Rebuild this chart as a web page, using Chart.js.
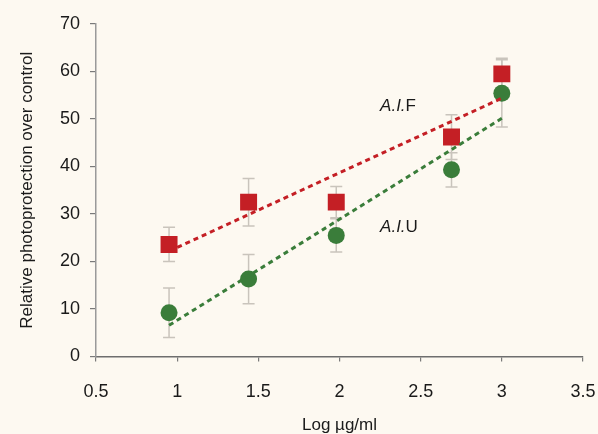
<!DOCTYPE html>
<html>
<head>
<meta charset="utf-8">
<script src="https://cdn.jsdelivr.net/npm/chart.js@4/dist/chart.umd.min.js"></script>
<style>
  html, body { margin: 0; padding: 0; background: #fdf9f1; }
  #wrap { width: 598px; height: 434px; }
</style>
</head>
<body>
<div id="wrap"><canvas id="chart" width="598" height="434"></canvas></div>
<script>
// log concentration (x) for each measurement
const logConc = [0.95, 1.44, 1.98, 2.69, 3.0]
// A.I.F series and its error bars
const aifVals = [23.6, 32.5, 32.5, 46.2, 59.5]
const aifErr = [3.6, 5.0, 3.3, 4.7, 3.3]
// A.I.U series and its error bars
const aiuVals = [9.2, 16.3, 25.5, 39.3, 55.4]
const aiuErr = [5.2, 5.2, 3.5, 3.6, 7.1]
// axis ticks
const xTicks = [0.5, 1, 1.5, 2, 2.5, 3, 3.5]
const yTicks = [0, 10, 20, 30, 40, 50, 60, 70]

const RED = '#c41f25'
const GREEN = '#3a7d3a'
const FONT = 'Arial, "Liberation Sans", sans-serif'

// least squares trend line over the x range of the data
function trend(xs, ys){
    const n = xs.length
    const mx = xs.reduce((a, b) => a + b, 0) / n
    const my = ys.reduce((a, b) => a + b, 0) / n
    let sxy = 0, sxx = 0
    for(let i = 0; i < n; i++){
        sxy += (xs[i] - mx) * (ys[i] - my)
        sxx += (xs[i] - mx) * (xs[i] - mx)
    }
    const k = sxy / sxx
    const x0 = Math.min(...xs), x1 = Math.max(...xs)
    return [{x: x0, y: my + k * (x0 - mx)}, {x: x1, y: my + k * (x1 - mx)}]
}

function pts(ys){
    return logConc.map((x, i) => ({x: x, y: ys[i]}))
}

// error bars drawn through the chart scales, under the markers
const errorBars = {
    id: 'errorBars',
    beforeDatasetsDraw(chart){
        const {ctx, scales: {x, y}} = chart
        ctx.save()
        ctx.strokeStyle = '#c9c4bc'
        ctx.lineWidth = 1.5
        const sets = [[aifVals, aifErr], [aiuVals, aiuErr]]
        sets.forEach(([vals, errs]) => {
            vals.forEach((v, i) => {
                const px = x.getPixelForValue(logConc[i])
                const top = y.getPixelForValue(v + errs[i])
                const bot = y.getPixelForValue(v - errs[i])
                ctx.beginPath()
                ctx.moveTo(px, top); ctx.lineTo(px, bot)
                ctx.moveTo(px - 6, top); ctx.lineTo(px + 6, top)
                ctx.moveTo(px - 6, bot); ctx.lineTo(px + 6, bot)
                ctx.stroke()
            })
        })
        ctx.restore()
    }
}

// series labels placed in data coordinates
const seriesLabels = {
    id: 'seriesLabels',
    afterDatasetsDraw(chart){
        const {ctx, scales: {x, y}} = chart
        ctx.save()
        ctx.fillStyle = '#1a1a1a'
        ctx.textBaseline = 'middle'
        const items = [['A.I.', 'F', 2.25, 52.6], ['A.I.', 'U', 2.25, 27.3]]
        items.forEach(([it, rest, lx, ly]) => {
            const px = x.getPixelForValue(lx)
            const py = y.getPixelForValue(ly)
            ctx.font = 'italic 17px ' + FONT
            ctx.fillText(it, px, py)
            const w = ctx.measureText(it).width
            ctx.font = '17px ' + FONT
            ctx.fillText(rest, px + w, py)
        })
        ctx.restore()
    }
}

const ctx = document.getElementById('chart').getContext('2d')

new Chart(ctx, {
    type: 'scatter',
    data: {
        datasets: [
            {
                label: 'A.I.F trend',
                type: 'line',
                data: trend(logConc, aifVals),
                borderColor: RED,
                borderWidth: 3,
                borderDash: [5, 4],
                pointRadius: 0,
                fill: false,
                order: 0
            },
            {
                label: 'A.I.U trend',
                type: 'line',
                data: trend(logConc, aiuVals),
                borderColor: GREEN,
                borderWidth: 3,
                borderDash: [5, 4],
                pointRadius: 0,
                fill: false,
                order: 0
            },
            {
                label: 'A.I.F',
                data: pts(aifVals),
                pointStyle: 'rect',
                pointRadius: 12,
                backgroundColor: RED,
                borderColor: RED,
                borderWidth: 0,
                order: 2
            },
            {
                label: 'A.I.U',
                data: pts(aiuVals),
                pointStyle: 'circle',
                pointRadius: 8.5,
                backgroundColor: GREEN,
                borderColor: GREEN,
                borderWidth: 0,
                order: 1
            }
        ]
    },
    options: {
        responsive: false,
        animation: false,
        layout: { autoPadding: false, padding: { top: 24, right: 15, left: 0, bottom: 0 } },
        plugins: { legend: { display: false }, tooltip: { enabled: false } },
        scales: {
            x: {
                type: 'linear',
                min: 0.5,
                max: 3.5,
                afterBuildTicks: s => { s.ticks = xTicks.map(v => ({value: v})) },
                afterFit: s => { s.height = 77.5; s.paddingRight = 12 },
                grid: { drawOnChartArea: false, drawTicks: true, tickLength: 5, color: '#7a7a7a', lineWidth: 1.2 },
                border: { color: '#6e6e6e', width: 1.5 },
                ticks: { color: '#1a1a1a', font: { family: FONT, size: 18 }, padding: 20, callback: v => String(v) },
                title: { display: true, text: 'Log µg/ml', color: '#1a1a1a', font: { family: FONT, size: 17, lineHeight: 1 }, padding: { top: 0, bottom: 0 } }
            },
            y: {
                type: 'linear',
                min: 0,
                max: 70,
                afterBuildTicks: s => { s.ticks = yTicks.map(v => ({value: v})) },
                afterFit: s => { s.width = 96 },
                grid: { drawOnChartArea: false, drawTicks: true, tickLength: 6, color: '#7a7a7a', lineWidth: 1.2 },
                border: { color: '#9a9a9a', width: 1.5 },
                ticks: { color: '#1a1a1a', font: { family: FONT, size: 18 }, padding: 10, callback: v => String(v) },
                title: { display: true, text: 'Relative photoprotection over control', color: '#1a1a1a', font: { family: FONT, size: 17 }, padding: { top: 17, bottom: 0 } }
            }
        }
    },
    plugins: [errorBars, seriesLabels]
})
</script>
</body>
</html>
